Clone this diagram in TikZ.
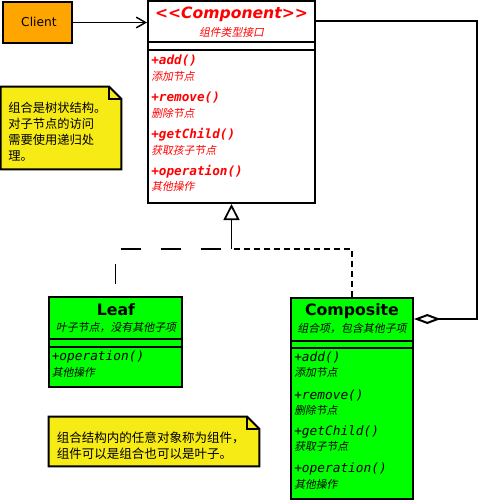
\documentclass[tikz,border=0pt]{standalone}
\usepackage{fontspec}
\setmainfont{DejaVu Sans}[Ligatures=NoCommon]
\setmonofont{DejaVu Sans Mono}
\newfontfamily\cjk{Noto Sans CJK SC}
\newfontfamily\cjkit{Noto Sans CJK SC}[FakeSlant=0.2]
\usetikzlibrary{arrows.meta,fit}
\definecolor{umlgreen}{RGB}{0,255,0}
\definecolor{umlorange}{RGB}{255,165,0}
\definecolor{noteyellow}{RGB}{247,235,22}
\begin{document}
\begin{tikzpicture}[x=0.75pt,y=-0.75pt,
  box/.style={draw, line width=1.5pt, inner sep=0pt},
  sepline/.style={line width=1.5pt},
  notebox/.style={draw=none, inner sep=0pt},
  noteshape/.style={draw, line width=1.5pt, fill=noteyellow, line join=miter},
  notetext/.style={anchor=west, inner sep=0pt},
  ctitle/.style={inner sep=0pt, text=red, font=\bfseries\itshape\fontsize{11.7}{14}\selectfont},
  csub/.style={inner sep=0pt, text=red, font=\cjkit\fontsize{8.1}{10}\selectfont},
  cmeth/.style={anchor=west, inner sep=0pt, text=red, font=\ttfamily\bfseries\itshape\fontsize{9.5}{11}\selectfont},
  cdesc/.style={anchor=west, inner sep=0pt, text=red, font=\cjkit\fontsize{8.1}{10}\selectfont},
  gtitle/.style={inner sep=0pt, font=\bfseries\fontsize{11.8}{14}\selectfont},
  gsub/.style={inner sep=0pt, font=\cjkit\fontsize{8.2}{10}\selectfont},
  gmeth/.style={anchor=west, inner sep=0pt, font=\ttfamily\itshape\fontsize{9.6}{11}\selectfont},
  gdesc/.style={anchor=west, inner sep=0pt, font=\cjkit\fontsize{8.1}{10}\selectfont},
  leafdash/.style={line width=1.3pt, dash pattern=on 15pt off 15pt, dash phase=21pt},
  compdash/.style={line width=1.3pt, dash pattern=on 4.5pt off 3pt},
]
\useasboundingbox (0,0) rectangle (478,500);

% Client
\node[box, fill=umlorange, fit={(3,2)(72,43)}] (client) {};
\node[inner sep=0pt, font=\fontsize{9.2}{11}\selectfont] (clientlbl) at (39,22) {Client};

% Component
\node[box, fill=white, fit={(148,1)(315,203)}] (comp) {};
\draw[sepline] (comp.west |- 0,42) -- (comp.east |- 0,42);
\draw[sepline] (comp.west |- 0,50) -- (comp.east |- 0,50);
\node[ctitle] (ctl) at (231.5,14) {<{}<Component>{}>};
\node[csub] (cst) at (231.5,32) {组件类型接口};
\node[cmeth] (cm1) at (151,61) {+add()};
\node[cdesc] (cd1) at (151,76) {添加节点};
\node[cmeth] (cm2) at (151,98) {+remove()};
\node[cdesc] (cd2) at (151,113) {删除节点};
\node[cmeth] (cm3) at (151,135) {+getChild()};
\node[cdesc] (cd3) at (151,150) {获取孩子节点};
\node[cmeth] (cm4) at (151,172) {+operation()};
\node[cdesc] (cd4) at (151,186) {其他操作};

% Note 1
\node[notebox, fit={(1,87)(121,169)}] (note1) {};
\draw[noteshape] (note1.south west) -- (note1.north west) -- ([xshift=-9pt]note1.north east) -- ([yshift=-9pt]note1.north east) -- (note1.south east) -- cycle;
\draw[line width=1.2pt] ([xshift=-9pt]note1.north east) -- ([xshift=-9pt,yshift=-9pt]note1.north east) -- ([yshift=-9pt]note1.north east);
\node[notetext, font=\cjk\fontsize{9.2}{12.1}\selectfont] (n1a) at (8,108) {组合是树状结构。};
\node[notetext, font=\cjk\fontsize{9.2}{12.1}\selectfont] (n1b) at (8,124) {对子节点的访问};
\node[notetext, font=\cjk\fontsize{9.2}{12.1}\selectfont] (n1c) at (8,140) {需要使用递归处};
\node[notetext, font=\cjk\fontsize{9.2}{12.1}\selectfont] (n1d) at (8,156) {理。};

% Leaf
\node[box, fill=umlgreen, fit={(49,297)(182,387)}] (leaf) {};
\draw[sepline] (leaf.west |- 0,338.5) -- (leaf.east |- 0,338.5);
\draw[sepline] (leaf.west |- 0,347) -- (leaf.east |- 0,347);
\node[gtitle] (ltl) at (116,310) {Leaf};
\node[gsub] (lst) at (116,327.5) {叶子节点，没有其他子项};
\node[gmeth] (lm1) at (51.5,357) {+operation()};
\node[gdesc] (ld1) at (51.5,372) {其他操作};

% Composite
\node[box, fill=umlgreen, fit={(291,298)(413,499)}] (compo) {};
\draw[sepline] (compo.west |- 0,340.5) -- (compo.east |- 0,340.5);
\draw[sepline] (compo.west |- 0,347.5) -- (compo.east |- 0,347.5);
\node[gtitle] (ptl) at (352,311) {Composite};
\node[gsub] (pst) at (352,328) {组合项，包含其他子项};
\node[gmeth] (pm1) at (294,357.5) {+add()};
\node[gdesc] (pd1) at (294,372.5) {添加节点};
\node[gmeth] (pm2) at (294,395) {+remove()};
\node[gdesc] (pd2) at (294,410) {删除节点};
\node[gmeth] (pm3) at (294,431.5) {+getChild()};
\node[gdesc] (pd3) at (294,446.5) {获取子节点};
\node[gmeth] (pm4) at (294,468.5) {+operation()};
\node[gdesc] (pd4) at (294,484) {其他操作};

% Note 2
\node[notebox, fit={(49,417)(259,466)}] (note2) {};
\draw[noteshape] (note2.south west) -- (note2.north west) -- ([xshift=-9pt]note2.north east) -- ([yshift=-9pt]note2.north east) -- (note2.south east) -- cycle;
\draw[line width=1.2pt] ([xshift=-9pt]note2.north east) -- ([xshift=-9pt,yshift=-9pt]note2.north east) -- ([yshift=-9pt]note2.north east);
\node[notetext, font=\cjk\fontsize{9.4}{12.5}\selectfont] (n2a) at (56.5,437.5) {组合结构内的任意对象称为组件，};
\node[notetext, font=\cjk\fontsize{9.4}{12.5}\selectfont] (n2b) at (56.5,454) {组件可以是组合也可以是叶子。};

% Connectors
\draw[line width=1.1pt, -{Straight Barb[length=7pt,width=8pt]}] (client.east) -- (comp.west |- client.east);
\coordinate (j) at (231.5,249);
\draw[leafdash] (leaf.north) |- (j);
\draw[compdash] (compo.north) |- (j);
\draw[line width=1.3pt, -{Triangle[open,length=12pt,width=12pt,line width=1.3pt]}] (j) -- (comp.south);
\coordinate (aggcorner) at (477,21);
\draw[line width=1.5pt, -{Diamond[open,length=20pt,width=7.5pt,line width=1.5pt]}] (comp.east |- aggcorner) -- (aggcorner) |- (compo.east |- 0,319);
\end{tikzpicture}
\end{document}
